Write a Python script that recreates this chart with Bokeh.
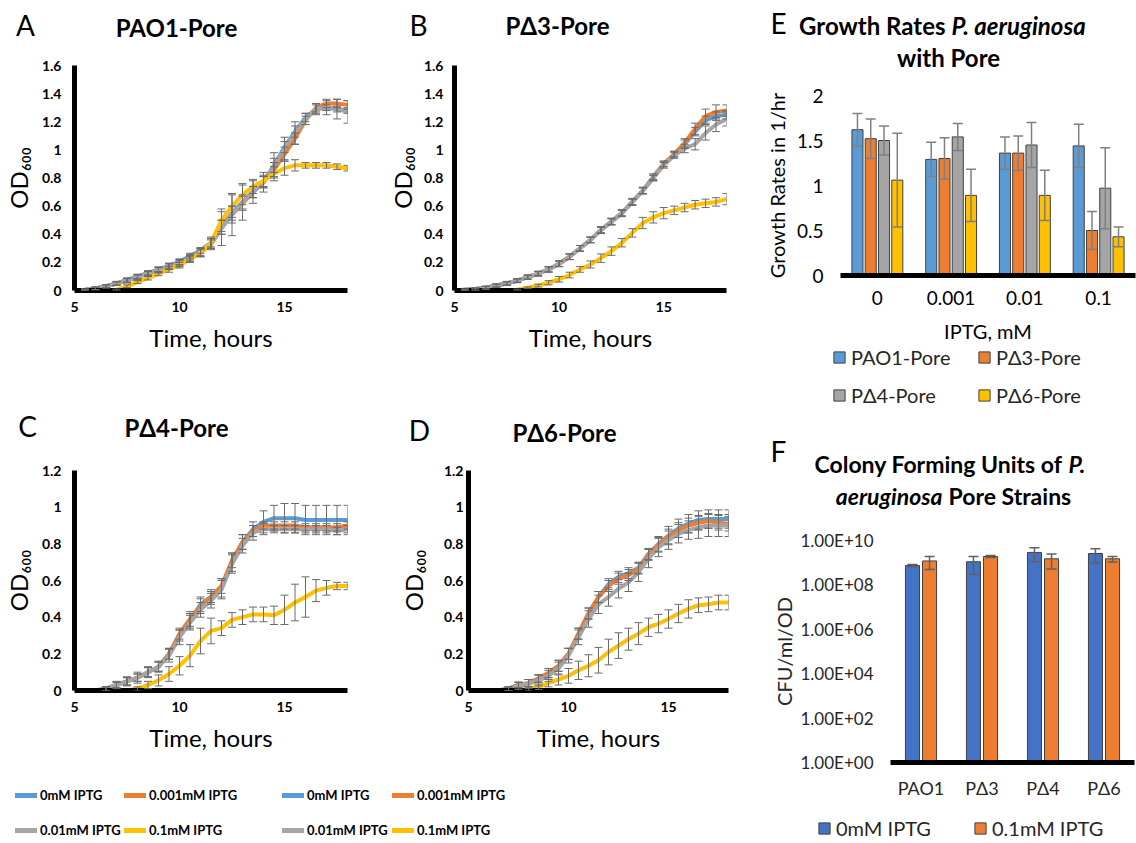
import math
from bokeh.plotting import figure
from bokeh.models import (Range1d, FixedTicker, Label, Legend, LegendItem, Whisker,
                          TeeHead, ColumnDataSource)
from bokeh.layouts import row, column
from bokeh.embed import file_html
from bokeh.resources import INLINE

FONT = "Lato"
LINE_COLORS = ["#5B9BD5", "#ED7D31", "#A5A5A5", "#FFC000"]
ERR_COLOR = "#6b6b6b"
NAN = float("nan")

# ---------------- data ----------------
hours = [5.0, 5.5, 6.0, 6.5, 7.0, 7.5, 8.0, 8.5, 9.0, 9.5, 10.0, 10.5, 11.0, 11.5,
         12.0, 12.5, 13.0, 13.5, 14.0, 14.5, 15.0, 15.5, 16.0, 16.5, 17.0, 17.5, 18.0]
iptg_labels = ["0mM IPTG", "0.001mM IPTG", "0.01mM IPTG", "0.1mM IPTG"]
x_ticks = [5, 10, 15]
y_ticks_16 = [0, 0.2, 0.4, 0.6, 0.8, 1.0, 1.2, 1.4, 1.6]
y_labels_16 = ["0", "0.2", "0.4", "0.6", "0.8", "1", "1.2", "1.4", "1.6"]
y_ticks_12 = [0, 0.2, 0.4, 0.6, 0.8, 1.0, 1.2]
y_labels_12 = ["0", "0.2", "0.4", "0.6", "0.8", "1", "1.2"]

# Panel A: PAO1-Pore
A_0mM = [0.00, 0.005, 0.015, 0.03, 0.05, 0.075, 0.10, 0.125, 0.15, 0.175, 0.205, 0.245, 0.285, 0.34,
         0.45, 0.55, 0.63, 0.70, 0.77, 0.89, 1.02, 1.13, 1.23, 1.29, 1.30, 1.29, 1.28]
A_0001mM = [0.00, 0.005, 0.015, 0.03, 0.05, 0.07, 0.095, 0.12, 0.145, 0.17, 0.195, 0.23, 0.27, 0.33,
            0.45, 0.54, 0.62, 0.70, 0.77, 0.86, 0.97, 1.08, 1.21, 1.30, 1.33, 1.33, 1.32]
A_001mM = [0.00, 0.005, 0.015, 0.03, 0.05, 0.07, 0.095, 0.12, 0.145, 0.17, 0.195, 0.23, 0.27, 0.33,
           0.44, 0.54, 0.63, 0.70, 0.77, 0.89, 1.01, 1.12, 1.22, 1.29, 1.30, 1.29, 1.27]
A_01mM = [0.00, 0.00, 0.00, 0.00, 0.005, 0.03, 0.06, 0.09, 0.12, 0.15, 0.18, 0.22, 0.27, 0.34,
          0.50, 0.60, 0.68, 0.74, 0.78, 0.83, 0.87, 0.89, 0.89, 0.89, 0.89, 0.88, 0.87]
A_0mM_err = [0, 0.005, 0.01, 0.01, 0.012, 0.015, 0.015, 0.015, 0.018, 0.02, 0.02, 0.02, 0.02, 0.03,
             0.05, 0.05, 0.05, 0.04, 0.04, 0.05, 0.04, 0.04, 0.03, 0.03, 0.02, 0.02, 0.02]
A_0001mM_err = [0, 0.005, 0.01, 0.01, 0.012, 0.015, 0.015, 0.015, 0.018, 0.02, 0.02, 0.02, 0.02, 0.03,
                0.05, 0.06, 0.05, 0.04, 0.04, 0.05, 0.05, 0.04, 0.03, 0.03, 0.03, 0.03, 0.03]
A_001mM_err = [0, 0.005, 0.01, 0.012, 0.015, 0.015, 0.02, 0.02, 0.02, 0.02, 0.025, 0.025, 0.03, 0.04,
               0.12, 0.15, 0.13, 0.08, 0.07, 0.09, 0.08, 0.08, 0.04, 0.04, 0.05, 0.07, 0.08]
A_01mM_err = [0, 0, 0, 0, 0.005, 0.01, 0.01, 0.015, 0.015, 0.02, 0.02, 0.02, 0.03, 0.04,
              0.08, 0.08, 0.07, 0.05, 0.04, 0.05, 0.05, 0.04, 0.02, 0.02, 0.02, 0.02, 0.02]

# Panel B: PΔ3-Pore
B_0mM = [0.00, 0.005, 0.01, 0.02, 0.035, 0.05, 0.07, 0.095, 0.12, 0.15, 0.19, 0.24, 0.30, 0.36,
         0.43, 0.49, 0.55, 0.63, 0.71, 0.81, 0.90, 0.97, 1.04, 1.13, 1.21, 1.24, 1.25]
B_0001mM = [0.00, 0.005, 0.01, 0.02, 0.035, 0.05, 0.07, 0.095, 0.12, 0.15, 0.19, 0.24, 0.30, 0.36,
            0.43, 0.49, 0.55, 0.63, 0.71, 0.80, 0.90, 0.97, 1.05, 1.15, 1.24, 1.27, 1.28]
B_001mM = [0.00, 0.005, 0.01, 0.02, 0.035, 0.05, 0.07, 0.095, 0.12, 0.15, 0.19, 0.24, 0.30, 0.36,
           0.43, 0.49, 0.55, 0.63, 0.71, 0.80, 0.89, 0.96, 1.01, 1.04, 1.12, 1.18, 1.22]
B_01mM = [0.00, 0.00, 0.00, 0.00, 0.00, 0.00, 0.005, 0.02, 0.035, 0.055, 0.08, 0.11, 0.15, 0.185,
          0.23, 0.28, 0.34, 0.41, 0.48, 0.52, 0.55, 0.57, 0.59, 0.61, 0.62, 0.63, 0.65]
B_0mM_err = [0, 0.005, 0.008, 0.01, 0.01, 0.012, 0.012, 0.015, 0.015, 0.018, 0.02, 0.02, 0.02, 0.02,
             0.02, 0.02, 0.02, 0.02, 0.02, 0.02, 0.02, 0.02, 0.03, 0.03, 0.03, 0.03, 0.03]
B_0001mM_err = [0, 0.005, 0.008, 0.01, 0.01, 0.012, 0.012, 0.015, 0.015, 0.018, 0.02, 0.02, 0.02, 0.02,
                0.02, 0.02, 0.02, 0.02, 0.02, 0.02, 0.02, 0.02, 0.03, 0.04, 0.05, 0.05, 0.04]
B_001mM_err = [0, 0.005, 0.008, 0.01, 0.012, 0.015, 0.015, 0.015, 0.018, 0.02, 0.02, 0.02, 0.02, 0.02,
               0.025, 0.025, 0.025, 0.025, 0.025, 0.02, 0.02, 0.02, 0.03, 0.04, 0.05, 0.05, 0.05]
B_01mM_err = [0, 0, 0, 0, 0, 0, 0.005, 0.005, 0.01, 0.015, 0.02, 0.02, 0.02, 0.025,
              0.03, 0.03, 0.03, 0.03, 0.04, 0.04, 0.04, 0.03, 0.03, 0.03, 0.03, 0.03, 0.04]

# Panel C: PΔ4-Pore
C_0mM = [0.00, 0.00, 0.00, 0.01, 0.03, 0.05, 0.07, 0.10, 0.13, 0.20, 0.30, 0.38, 0.47, 0.51,
         0.56, 0.70, 0.81, 0.88, 0.92, 0.94, 0.94, 0.94, 0.93, 0.93, 0.93, 0.93, 0.93]
C_0001mM = [0.00, 0.00, 0.00, 0.01, 0.03, 0.05, 0.07, 0.10, 0.13, 0.20, 0.31, 0.39, 0.46, 0.51,
            0.57, 0.71, 0.81, 0.87, 0.90, 0.90, 0.90, 0.90, 0.89, 0.89, 0.89, 0.89, 0.90]
C_001mM = [0.00, 0.00, 0.00, 0.01, 0.03, 0.05, 0.07, 0.10, 0.13, 0.19, 0.29, 0.37, 0.44, 0.49,
           0.55, 0.69, 0.79, 0.86, 0.88, 0.88, 0.88, 0.88, 0.88, 0.88, 0.88, 0.87, 0.88]
C_01mM = [0.00, 0.00, 0.00, 0.00, 0.00, 0.00, 0.01, 0.03, 0.055, 0.09, 0.135, 0.19, 0.27, 0.325,
          0.34, 0.385, 0.40, 0.415, 0.415, 0.41, 0.44, 0.48, 0.51, 0.545, 0.56, 0.57, 0.57]
C_0mM_err = [0, 0, 0, 0.01, 0.015, 0.02, 0.02, 0.025, 0.025, 0.03, 0.03, 0.04, 0.04, 0.04,
             0.05, 0.05, 0.04, 0.04, 0.06, 0.07, 0.08, 0.08, 0.08, 0.08, 0.08, 0.08, 0.08]
C_0001mM_err = [0, 0, 0, 0.01, 0.015, 0.02, 0.02, 0.025, 0.025, 0.03, 0.03, 0.04, 0.04, 0.03,
                0.04, 0.04, 0.04, 0.03, 0.02, 0.02, 0.02, 0.02, 0.02, 0.02, 0.02, 0.02, 0.02]
C_001mM_err = [0, 0, 0, 0.01, 0.02, 0.025, 0.03, 0.03, 0.03, 0.035, 0.04, 0.04, 0.04, 0.04,
               0.05, 0.05, 0.04, 0.04, 0.03, 0.02, 0.02, 0.02, 0.02, 0.02, 0.02, 0.02, 0.02]
C_01mM_err = [0, 0, 0, 0, 0, 0, 0.01, 0.02, 0.03, 0.04, 0.05, 0.06, 0.07, 0.07,
              0.04, 0.04, 0.04, 0.04, 0.04, 0.05, 0.08, 0.10, 0.11, 0.06, 0.04, 0.02, 0.02]

# Panel D: PΔ6-Pore
D_0mM = [0.00, 0.00, 0.00, 0.00, 0.01, 0.03, 0.04, 0.065, 0.095, 0.135, 0.20, 0.31, 0.42, 0.51,
         0.58, 0.62, 0.64, 0.67, 0.745, 0.80, 0.845, 0.885, 0.91, 0.93, 0.935, 0.935, 0.935]
D_0001mM = [0.00, 0.00, 0.00, 0.00, 0.01, 0.03, 0.04, 0.065, 0.095, 0.135, 0.20, 0.31, 0.42, 0.51,
            0.57, 0.61, 0.63, 0.665, 0.74, 0.795, 0.84, 0.875, 0.90, 0.915, 0.925, 0.915, 0.91]
D_001mM = [0.00, 0.00, 0.00, 0.00, 0.01, 0.025, 0.035, 0.055, 0.08, 0.12, 0.19, 0.29, 0.39, 0.47,
           0.51, 0.555, 0.59, 0.645, 0.72, 0.78, 0.82, 0.855, 0.875, 0.89, 0.90, 0.90, 0.90]
D_01mM = [0.00, 0.00, 0.00, 0.00, 0.00, 0.00, 0.01, 0.02, 0.04, 0.06, 0.08, 0.11, 0.135, 0.165,
          0.21, 0.245, 0.28, 0.31, 0.345, 0.365, 0.39, 0.42, 0.445, 0.465, 0.47, 0.48, 0.48]
D_0mM_err = [0, 0, 0, 0, 0.01, 0.015, 0.02, 0.02, 0.025, 0.03, 0.03, 0.03, 0.03, 0.03,
             0.03, 0.03, 0.03, 0.03, 0.03, 0.04, 0.05, 0.05, 0.05, 0.05, 0.05, 0.05, 0.05]
D_0001mM_err = [0, 0, 0, 0, 0.01, 0.015, 0.02, 0.02, 0.025, 0.03, 0.03, 0.03, 0.03, 0.03,
                0.03, 0.03, 0.03, 0.03, 0.03, 0.04, 0.04, 0.04, 0.04, 0.04, 0.04, 0.04, 0.04]
D_001mM_err = [0, 0, 0, 0, 0.01, 0.02, 0.025, 0.03, 0.03, 0.035, 0.04, 0.04, 0.045, 0.05,
               0.05, 0.05, 0.05, 0.05, 0.05, 0.05, 0.05, 0.05, 0.05, 0.06, 0.06, 0.06, 0.06]
D_01mM_err = [0, 0, 0, 0, 0, 0, 0.01, 0.015, 0.02, 0.03, 0.04, 0.05, 0.06, 0.07,
              0.07, 0.07, 0.06, 0.06, 0.05, 0.05, 0.05, 0.05, 0.05, 0.04, 0.04, 0.04, 0.04]

# Panel E: growth rates
iptg_mM = ["0", "0.001", "0.01", "0.1"]
strain_names = ["PAO1-Pore", "PΔ3-Pore", "PΔ4-Pore", "PΔ6-Pore"]
rate_PAO1 = [1.62, 1.29, 1.36, 1.44]
rate_P3 = [1.52, 1.30, 1.36, 0.50]
rate_P4 = [1.50, 1.54, 1.45, 0.97]
rate_P6 = [1.06, 0.89, 0.89, 0.43]
rate_PAO1_err = [0.18, 0.19, 0.18, 0.24]
rate_P3_err = [0.22, 0.23, 0.19, 0.21]
rate_P4_err = [0.16, 0.15, 0.25, 0.45]
rate_P6_err = [0.52, 0.29, 0.28, 0.11]
rate_ticks = [0, 0.5, 1, 1.5, 2]
rate_tick_labels = ["0", "0.5", "1", "1.5", "2"]

# Panel F: CFU
cfu_strains = ["PAO1", "PΔ3", "PΔ4", "PΔ6"]
cfu_series = ["0mM IPTG", "0.1mM IPTG"]
cfu_0mM = [7.4e8, 1.1e9, 2.9e9, 2.6e9]
cfu_01mM = [1.2e9, 1.9e9, 1.5e9, 1.5e9]
cfu_0mM_err = [0.9e8, 8.0e8, 1.8e9, 1.6e9]
cfu_01mM_err = [7.0e8, 2.0e8, 9.8e8, 4.2e8]
cfu_ticks = [1, 1e2, 1e4, 1e6, 1e8, 1e10]
cfu_tick_labels = ["1.00E+00", "1.00E+02", "1.00E+04", "1.00E+06", "1.00E+08", "1.00E+10"]


# ---------------- helpers ----------------
def make_fig(W, H, l, r, t, b, xr, yr, **kw):
    p = figure(width=W, height=H, x_range=xr, y_range=yr, output_backend="svg",
               toolbar_location=None, min_border_left=l, min_border_right=r,
               min_border_top=t, min_border_bottom=b, outline_line_color=None,
               background_fill_color="white", border_fill_color="white", **kw)
    p.xgrid.visible = False
    p.ygrid.visible = False
    return p


def strip(W, H):
    """Axis-free canvas used for panel headings and legends."""
    p = figure(width=W, height=H, x_range=Range1d(0, 1), y_range=Range1d(0, 1),
               output_backend="svg", toolbar_location=None, x_axis_location=None,
               y_axis_location=None, min_border_left=0, min_border_right=0,
               min_border_top=0, min_border_bottom=0, outline_line_color=None,
               background_fill_color="white", border_fill_color="white")
    p.xgrid.visible = False
    p.ygrid.visible = False
    return p


def txt(p, org, X, Y, text, size, style="normal", align="center", color="black"):
    ox, oy, H = org
    p.add_layout(Label(x=X - ox, y=oy + H - Y, x_units="screen", y_units="screen",
                       text=text, text_font=FONT, text_font_size=f"{size}px",
                       text_font_style=style, text_align=align, text_baseline="middle",
                       text_color=color))


def style_axis(ax, size, style, standoff, ticks, labels, line=True, color="black"):
    ax.ticker = FixedTicker(ticks=ticks)
    ax.major_label_overrides = {float(k): v for k, v in zip(ticks, labels)}
    ax.major_tick_line_color = None
    ax.minor_tick_line_color = None
    ax.major_tick_out = 0
    ax.major_tick_in = 0
    ax.minor_tick_out = 0
    ax.minor_tick_in = 0
    ax.major_label_standoff = standoff
    ax.major_label_text_font = FONT
    ax.major_label_text_font_size = f"{size}px"
    ax.major_label_text_font_style = style
    ax.major_label_text_color = color
    if line:
        ax.axis_line_color = "black"
        ax.axis_line_width = 5
    else:
        ax.axis_line_color = None


def axis_title(ax, text, size, standoff, color="black"):
    ax.axis_label = text
    ax.axis_label_text_font = FONT
    ax.axis_label_text_font_size = f"{size}px"
    ax.axis_label_text_font_style = "normal"
    ax.axis_label_text_color = color
    ax.axis_label_standoff = standoff


def add_whiskers(p, xs, vals, errs, head, width, color):
    bx, up, lo = [], [], []
    for x, v, e in zip(xs, vals, errs):
        if e > 0:
            bx.append(x)
            up.append(v + e)
            lo.append(v - e)
    src = ColumnDataSource(dict(base=bx, upper=up, lower=lo))
    w = Whisker(source=src, base="base", upper="upper", lower="lower", dimension="height",
                line_color=color, line_width=width, level="annotation",
                upper_head=TeeHead(size=head, line_color=color, line_width=width),
                lower_head=TeeHead(size=head, line_color=color, line_width=width))
    p.add_layout(w)


def add_legend(p, org, items, X, Ytop, item_h, spacing, glyph_w, glyph_h, size, style, color,
               standoff):
    ox, oy, H = org
    n = len(items)
    leg_h = n * item_h + (n - 1) * spacing
    leg = Legend(items=items, location=(X - ox, oy + H - (Ytop + leg_h)),
                 orientation="vertical", spacing=spacing, padding=0, margin=0,
                 glyph_width=glyph_w, glyph_height=glyph_h, label_height=item_h,
                 label_standoff=standoff, label_text_font=FONT,
                 label_text_font_size=f"{size}px", label_text_font_style=style,
                 label_text_color=color, border_line_color=None, background_fill_alpha=0)
    p.add_layout(leg)


def growth_panel(W, H, l, r, t, b, ymax, yticks, ylabels, series, errors, ystand, ylab_stand):
    p = make_fig(W, H, l, r, t, b, Range1d(5, 18), Range1d(0, ymax))
    for vals, col in zip(series, LINE_COLORS):
        p.line(hours, vals, line_color=col, line_width=4, line_cap="round", line_join="round")
    for vals, errs in zip(series, errors):
        add_whiskers(p, hours, vals, errs, 8, 1, ERR_COLOR)
    style_axis(p.xaxis[0], 14, "bold", 11, x_ticks, [str(v) for v in x_ticks])
    style_axis(p.yaxis[0], 14, "bold", ystand, yticks, ylabels)
    axis_title(p.xaxis[0], "Time, hours", 24, 8)
    axis_title(p.yaxis[0], "OD₆₀₀", 24, ylab_stand)
    return p


# ---------------- panels A-D ----------------
pA = growth_panel(384, 348, 72, 37, 15, 108, 1.6, y_ticks_16, y_labels_16,
                  [A_0mM, A_0001mM, A_001mM, A_01mM],
                  [A_0mM_err, A_0001mM_err, A_001mM_err, A_01mM_err], 13, 6)
pB = growth_panel(376, 348, 65, 34, 15, 108, 1.6, y_ticks_16, y_labels_16,
                  [B_0mM, B_0001mM, B_001mM, B_01mM],
                  [B_0mM_err, B_0001mM_err, B_001mM_err, B_01mM_err], 11, 4)
pC = growth_panel(384, 310, 72, 37, 11, 75, 1.2, y_ticks_12, y_labels_12,
                  [C_0mM, C_0001mM, C_001mM, C_01mM],
                  [C_0mM_err, C_0001mM_err, C_001mM_err, C_01mM_err], 13, 6)
pD = growth_panel(376, 310, 84, 32, 15, 75, 1.2, y_ticks_12, y_labels_12,
                  [D_0mM, D_0001mM, D_001mM, D_01mM],
                  [D_0mM_err, D_0001mM_err, D_001mM_err, D_01mM_err], 5, 13)

# headings for A-D
oAB = (0, 0, 50)
hAB = strip(760, 50)
txt(hAB, oAB, 25, 24, "A", 28)
txt(hAB, oAB, 176, 27, "PAO1-Pore", 24, style="bold")
txt(hAB, oAB, 418, 24, "B", 28)
txt(hAB, oAB, 557, 25, "PΔ3-Pore", 24, style="bold")

oCD = (0, 398, 57)
hCD = strip(760, 57)
txt(hCD, oCD, 27, 425, "C", 28)
txt(hCD, oCD, 176, 427, "PΔ4-Pore", 24, style="bold")
txt(hCD, oCD, 419, 429, "D", 28)
txt(hCD, oCD, 564, 432, "PΔ6-Pore", 24, style="bold")

# shared line legends under C and D (legend-only renderers hold no points)
oL = (0, 765, 78)
lCD = strip(760, 78)
leg_lines = [lCD.line(x=[NAN], y=[NAN], line_color=c, line_width=5, line_cap="round")
             for c in LINE_COLORS]
for xs in ((15, 124), (282, 392)):
    add_legend(lCD, oL, [LegendItem(label=iptg_labels[0], renderers=[leg_lines[0]]),
                         LegendItem(label=iptg_labels[2], renderers=[leg_lines[2]])],
               xs[0], 785, 20, 15, 22, 20, 13, "bold", "black", 3)
    add_legend(lCD, oL, [LegendItem(label=iptg_labels[1], renderers=[leg_lines[1]]),
                         LegendItem(label=iptg_labels[3], renderers=[leg_lines[3]])],
               xs[1], 785, 20, 15, 22, 20, 13, "bold", "black", 3)

# ---------------- panel E ----------------
oE = (760, 0, 80)
hE = strip(376, 80)
txt(hE, oE, 778, 22, "E", 28)
txt(hE, oE, 945, 25, "Growth Rates", 24, style="bold", align="right")
txt(hE, oE, 951, 25, "P. aeruginosa", 24, style="bold italic", align="left")
txt(hE, oE, 948, 57, "with Pore", 24, style="bold")

pE = make_fig(376, 265, 80, 1, 15, 69, Range1d(-0.5, 3.5), Range1d(0, 2))
bar_offsets_E = [-0.27, -0.09, 0.09, 0.27]
E_colors = ["#5B9BD5", "#ED7D31", "#A5A5A5", "#FFC000"]
for j, (vals, errs) in enumerate(((rate_PAO1, rate_PAO1_err), (rate_P3, rate_P3_err),
                                  (rate_P4, rate_P4_err), (rate_P6, rate_P6_err))):
    xs = [i + bar_offsets_E[j] for i in range(len(iptg_mM))]
    pE.vbar(x=xs, top=vals, bottom=0, width=0.15, fill_color=E_colors[j],
            line_color="#404040", line_width=1)
    add_whiskers(pE, xs, vals, errs, 10, 1.5, "#808080")
style_axis(pE.xaxis[0], 19, "normal", 15, list(range(len(iptg_mM))), iptg_mM)
style_axis(pE.yaxis[0], 19, "normal", 17, rate_ticks, rate_tick_labels, line=False)
axis_title(pE.xaxis[0], "IPTG, mM", 20, 11)
axis_title(pE.yaxis[0], "Growth Rates in 1/hr", 20, 5)

oLE = (760, 345, 75)
lE = strip(376, 75)
leg_bars_E = [lE.vbar(x=[NAN], top=[NAN], width=0.1, fill_color=c, line_color="#404040",
                      line_width=1) for c in E_colors]
add_legend(lE, oLE, [LegendItem(label=strain_names[0], renderers=[leg_bars_E[0]]),
                     LegendItem(label=strain_names[2], renderers=[leg_bars_E[2]])],
           832, 345, 24, 14, 14, 14, 20, "normal", "#262626", 5)
add_legend(lE, oLE, [LegendItem(label=strain_names[1], renderers=[leg_bars_E[1]]),
                     LegendItem(label=strain_names[3], renderers=[leg_bars_E[3]])],
           977, 345, 24, 14, 14, 14, 20, "normal", "#262626", 5)

# ---------------- panel F ----------------
oF = (760, 420, 100)
hF = strip(376, 100)
txt(hF, oF, 778, 450, "F", 28)
txt(hF, oF, 1062, 463, "Colony Forming Units of", 23, style="bold", align="right")
txt(hF, oF, 1068, 463, "P.", 23, style="bold italic", align="left")
txt(hF, oF, 942, 495, "aeruginosa", 23, style="bold italic", align="right")
txt(hF, oF, 948, 495, "Pore Strains", 23, style="bold", align="left")

pF = make_fig(376, 285, 130, 2, 20, 43, Range1d(-0.5, 3.5),
              Range1d(1, 1e10), y_axis_type="log")
bar_offsets_F = [-0.14, 0.14]
F_colors = ["#4472C4", "#ED7D31"]
for j, (vals, errs) in enumerate(((cfu_0mM, cfu_0mM_err), (cfu_01mM, cfu_01mM_err))):
    xs = [i + bar_offsets_F[j] for i in range(len(cfu_strains))]
    pF.vbar(x=xs, top=vals, bottom=1, width=0.23, fill_color=F_colors[j],
            line_color="#404040", line_width=1)
    add_whiskers(pF, xs, vals, errs, 10, 1.5, "#606060")
style_axis(pF.xaxis[0], 18, "normal", 14, list(range(len(cfu_strains))), cfu_strains,
           color="#262626")
style_axis(pF.yaxis[0], 17, "normal", 17, cfu_ticks, cfu_tick_labels, line=False,
           color="#262626")
axis_title(pF.yaxis[0], "CFU/ml/OD", 20, 2, color="#262626")

oLF = (760, 805, 38)
lF = strip(376, 38)
leg_bars_F = [lF.vbar(x=[NAN], top=[NAN], width=0.1, fill_color=c, line_color="#404040",
                      line_width=1) for c in F_colors]
add_legend(lF, oLF, [LegendItem(label=cfu_series[0], renderers=[leg_bars_F[0]])],
           817, 816, 24, 0, 14, 14, 20, "normal", "#262626", 5)
add_legend(lF, oLF, [LegendItem(label=cfu_series[1], renderers=[leg_bars_F[1]])],
           973, 816, 24, 0, 14, 14, 20, "normal", "#262626", 5)

left = column(row(hAB), row(pA, pB), row(hCD), row(pC, pD), row(lCD))
right = column(row(hE), row(pE), row(lE), row(hF), row(pF), row(lF))
layout = row(left, right)
open("out.html", "w").write(file_html(layout, INLINE))
